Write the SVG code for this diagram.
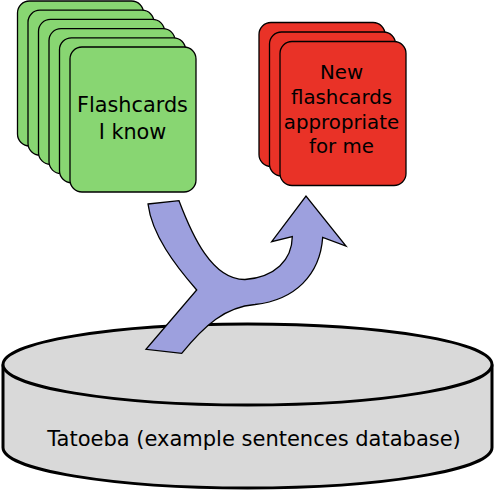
<svg xmlns="http://www.w3.org/2000/svg" width="494" height="491" viewBox="0 0 494 491">
<style>
.g{fill:#88d672;stroke:#000;stroke-width:1.3}
.r{fill:#e93227;stroke:#000;stroke-width:1.3}
.t{font-family:"DejaVu Sans",sans-serif;fill:#000;text-anchor:middle}
.db{fill:#d9d9d9;stroke:#000;stroke-width:3}
</style>
<g id="known">
<rect class="g" x="17.5" y="1" width="126" height="145" rx="12"/>
<rect class="g" x="28" y="10.2" width="126" height="145" rx="12"/>
<rect class="g" x="38.5" y="19.4" width="126" height="145" rx="12"/>
<rect class="g" x="49" y="28.6" width="126" height="145" rx="12"/>
<rect class="g" x="59.5" y="37.8" width="126" height="145" rx="12"/>
<rect class="g" x="70" y="47" width="126" height="145" rx="12"/>
<text class="t" x="132.5" y="112.3" font-size="20.8">Flashcards</text>
<text class="t" x="132.5" y="139" font-size="20.8">I know</text>
</g>
<g id="new">
<rect class="r" x="259" y="22.5" width="126" height="144" rx="12"/>
<rect class="r" x="269.5" y="32" width="126" height="144" rx="12"/>
<rect class="r" x="280" y="41.5" width="126" height="144" rx="12"/>
<text class="t" x="341.5" y="79" font-size="19.8">New</text>
<text class="t" x="341.5" y="104" font-size="19.8">flashcards</text>
<text class="t" x="341.5" y="128.8" font-size="19.8">appropriate</text>
<text class="t" x="341.5" y="153.3" font-size="19.8">for me</text>
</g>
<g id="database">
<path class="db" d="M3,364.5 V447.5 A244.5,40.5 0 0 0 492,447.5 V364.5"/>
<ellipse class="db" cx="247.5" cy="364.5" rx="244.5" ry="40.5"/>
<text class="t" x="254" y="446" font-size="21">Tatoeba (example sentences database)</text>
</g>
<g id="connectors">
<path fill="#9da0de" stroke="#000" stroke-width="1.3" stroke-linejoin="miter" d="M148,204 L179,200.7 C192,235 212,280 245,279.5 C275,277 292,260 292.3,236.7 L271.7,241.7 L306,196 L346,246 L322.7,237.3 C320,275 295,300 255,304.5 C225,307 205,325 181.7,353.3 L146,349.3 L196.7,290 C175,265 152,235 148,204 Z"/>
</g>
</svg>
